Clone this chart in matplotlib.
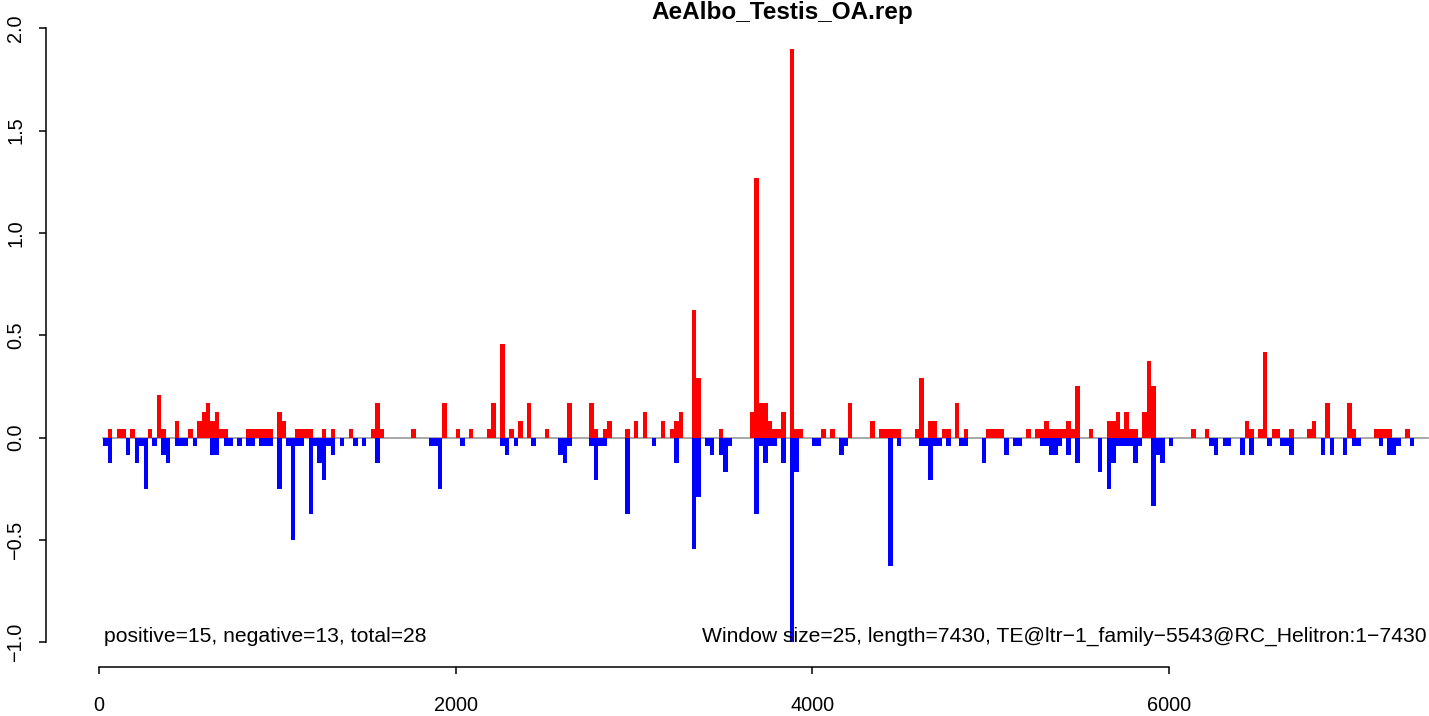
import matplotlib
matplotlib.use("Agg")
import matplotlib.pyplot as plt
import numpy as np

plt.rcParams['font.family'] = ['Liberation Sans', 'DejaVu Sans']

WINDOW = 25
title = "AeAlbo_Testis_OA.rep"
left_note = "positive=15, negative=13, total=28"
right_note = "Window size=25, length=7430, TE@ltr\u22121_family\u22125543@RC_Helitron:1\u22127430"

# window index -> value (positive strand, red)
red_win = [2, 4, 5, 7, 11, 13, 14, 17, 20, 22, 23, 24, 25, 26, 27, 28, 33, 34, 35, 36, 37, 38,
           40, 41, 44, 45, 46, 47, 50, 52, 56, 61, 62, 63, 70, 77,
           80, 83, 87, 88, 90, 92, 94, 96, 100, 105, 110, 111, 113, 114,
           118, 120, 122, 126, 128, 129, 130, 133, 134, 139, 146, 147, 148, 149, 150, 151, 152, 153, 155, 156, 157,
           162, 164, 168, 173, 175, 176, 177, 178, 179, 183, 184, 186, 187, 189, 190, 192, 194,
           199, 200, 201, 202, 208, 210, 211, 212, 213, 214, 215, 216, 217, 218, 219, 222,
           226, 227, 228, 229, 230, 231, 232, 234, 235, 236,
           245, 248, 257, 258, 260, 261, 263, 264, 267, 271, 272, 275, 280, 281, 286, 287, 288, 289, 293]
red_val = [.042, .042, .042, .042, .042, .208, .042, .083, .042, .083, .125, .167, .083, .125, .042, .042, .042, .042, .042, .042, .042, .042,
           .125, .083, .042, .042, .042, .042, .042, .042, .042, .042, .167, .042, .042, .167,
           .042, .042, .042, .167, .458, .042, .083, .167, .042, .167, .167, .042, .042, .083,
           .042, .083, .125, .083, .042, .083, .125, .625, .292, .042, .125, 1.27, .167, .167, .083, .042, .042, .125, 1.9, .042, .042,
           .042, .042, .167, .083, .042, .042, .042, .042, .042, .042, .292, .083, .083, .042, .042, .167, .042,
           .042, .042, .042, .042, .042, .042, .042, .083, .042, .042, .042, .042, .083, .042, .25, .042,
           .083, .083, .125, .042, .125, .042, .042, .125, .375, .25,
           .042, .042, .083, .042, .042, .417, .042, .042, .042, .042, .083, .167, .167, .042, .042, .042, .042, .042, .042]

# window index -> value (negative strand, blue)
blue_win = [1, 2, 6, 8, 9, 10, 12, 14, 15, 17, 18, 19, 21, 25, 26, 28, 29, 31, 33, 34, 36, 37, 38,
            40, 42, 43, 44, 45, 47, 48, 49, 50, 51, 52, 54, 57, 59, 62, 74, 75, 76,
            81, 90, 91, 93, 97, 103, 104, 105, 110, 111, 112, 113,
            118, 124, 129, 133, 134, 136, 137, 139, 140, 141, 147, 148, 149, 150, 151, 153, 155, 156,
            160, 161, 166, 167, 177, 179, 184, 185, 186, 187, 188, 190, 193, 194,
            198, 203, 205, 206, 211, 212, 213, 214, 215, 217, 219, 224, 226, 227, 228, 229, 230, 231, 232, 233,
            236, 237, 238, 240, 249, 250, 252, 253, 256, 258, 262, 265, 266, 267, 274, 276, 279, 281, 282,
            287, 289, 290, 291, 294]
blue_val = [-.042, -.125, -.083, -.125, -.042, -.25, -.042, -.083, -.125, -.042, -.042, -.042, -.042, -.083, -.083, -.042, -.042, -.042, -.042, -.042, -.042, -.042, -.042,
            -.25, -.042, -.5, -.042, -.042, -.375, -.042, -.125, -.208, -.042, -.083, -.042, -.042, -.042, -.125, -.042, -.042, -.25,
            -.042, -.042, -.083, -.042, -.042, -.083, -.125, -.042, -.042, -.208, -.042, -.042,
            -.375, -.042, -.125, -.542, -.292, -.042, -.083, -.083, -.167, -.042, -.375, -.042, -.125, -.042, -.042, -.125, -1.0, -.167,
            -.042, -.042, -.083, -.042, -.625, -.042, -.042, -.042, -.208, -.042, -.042, -.042, -.042, -.042,
            -.125, -.083, -.042, -.042, -.042, -.042, -.083, -.083, -.042, -.083, -.125, -.167, -.25, -.125, -.042, -.042, -.042, -.042, -.125, -.042,
            -.333, -.083, -.125, -.042, -.042, -.083, -.042, -.042, -.083, -.083, -.042, -.042, -.042, -.083, -.083, -.083, -.083, -.042, -.042,
            -.042, -.083, -.083, -.042, -.042]

xticks = [0, 2000, 4000, 6000]
yticks = [-1.0, -0.5, 0.0, 0.5, 1.0, 1.5, 2.0]

W, H = 1429, 716
fig = plt.figure(figsize=(W / 100, H / 100), dpi=100)
# plot region in pixels (R-like, right edge runs past the figure)
x0, x1 = 46, 1477
y_top, y_bot = 22, 667
ax = fig.add_axes([x0 / W, 1 - y_bot / H, (x1 - x0) / W, (y_bot - y_top) / H])

ax.plot([25, 7450], [0, 0], color='#999999', lw=1.2, zorder=1)
ax.bar(np.array(red_win) * WINDOW, red_val, width=WINDOW, align='edge', color='#ff0000', linewidth=0, zorder=2)
ax.bar(np.array(blue_win) * WINDOW, blue_val, width=WINDOW, align='edge', color='#0000ff', linewidth=0, zorder=2)

ax.set_xlim(-297, 7727)
ax.set_ylim(-1.12, 2.03)

for s in ['top', 'right']:
    ax.spines[s].set_visible(False)
ax.spines['left'].set_bounds(-1.0, 2.0)
ax.spines['bottom'].set_bounds(0, 6000)
ax.spines['left'].set_linewidth(1.1)
ax.spines['bottom'].set_linewidth(1.1)

ax.set_xticks(xticks)
ax.set_xticklabels([str(t) for t in xticks])
ax.set_yticks(yticks)
ax.set_yticklabels([f"{t:.1f}".replace('-', '\u2212') for t in yticks], rotation=90, va='center')
ax.tick_params(axis='both', direction='out', length=5, width=1.1, labelsize=14.3)
ax.tick_params(axis='x', pad=16)
ax.tick_params(axis='y', pad=10)

ax.text(28, -0.972, left_note, fontsize=15.2, ha='left', va='center')
ax.text(3381, -0.972, right_note, fontsize=15.2, ha='left', va='center', clip_on=False)

fig.text(782 / W, 1 - 12 / H, title, fontsize=17.5, fontweight='bold', ha='center', va='center')

fig.savefig("out.png", dpi=100)
